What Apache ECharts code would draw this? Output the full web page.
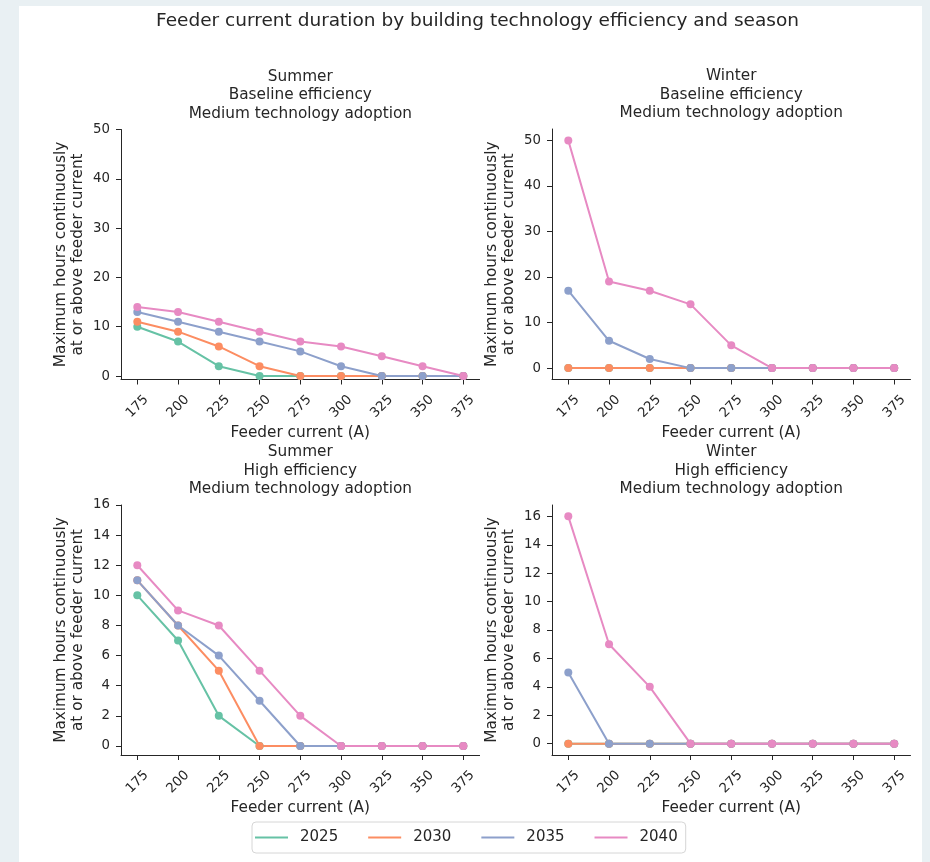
<!DOCTYPE html>
<html>
<head>
<meta charset="utf-8">
<script src="https://cdn.jsdelivr.net/npm/echarts@6/dist/echarts.min.js"></script>
<style>
html,body{margin:0;padding:0;background:#e9f0f3;}
#chart{width:930px;height:862px;}
</style>
</head>
<body>
<div id="chart"></div>
<script>
// ---- data ----
const currents = [175, 200, 225, 250, 275, 300, 325, 350, 375];
const years = ['2025', '2030', '2035', '2040'];
const colors = ['#66c2a5', '#fc8d62', '#8da0cb', '#e78ac3'];

// Summer, baseline efficiency
const summerBase2025 = [10, 7, 2, 0, 0, 0, 0, 0, 0];
const summerBase2030 = [11, 9, 6, 2, 0, 0, 0, 0, 0];
const summerBase2035 = [13, 11, 9, 7, 5, 2, 0, 0, 0];
const summerBase2040 = [14, 13, 11, 9, 7, 6, 4, 2, 0];
// Winter, baseline efficiency
const winterBase2025 = [0, 0, 0, 0, 0, 0, 0, 0, 0];
const winterBase2030 = [0, 0, 0, 0, 0, 0, 0, 0, 0];
const winterBase2035 = [17, 6, 2, 0, 0, 0, 0, 0, 0];
const winterBase2040 = [50, 19, 17, 14, 5, 0, 0, 0, 0];
// Summer, high efficiency
const summerHigh2025 = [10, 7, 2, 0, 0, 0, 0, 0, 0];
const summerHigh2030 = [11, 8, 5, 0, 0, 0, 0, 0, 0];
const summerHigh2035 = [11, 8, 6, 3, 0, 0, 0, 0, 0];
const summerHigh2040 = [12, 9, 8, 5, 2, 0, 0, 0, 0];
// Winter, high efficiency
const winterHigh2025 = [0, 0, 0, 0, 0, 0, 0, 0, 0];
const winterHigh2030 = [0, 0, 0, 0, 0, 0, 0, 0, 0];
const winterHigh2035 = [5, 0, 0, 0, 0, 0, 0, 0, 0];
const winterHigh2040 = [16, 7, 4, 0, 0, 0, 0, 0, 0];

// tick labels
const xTicks = [175, 200, 225, 250, 275, 300, 325, 350, 375];
const yTicksBaseline = [0, 10, 20, 30, 40, 50];
const yTicksHigh = [0, 2, 4, 6, 8, 10, 12, 14, 16];

const panelTitles = [
  'Summer\nBaseline efficiency\nMedium technology adoption',
  'Winter\nBaseline efficiency\nMedium technology adoption',
  'Summer\nHigh efficiency\nMedium technology adoption',
  'Winter\nHigh efficiency\nMedium technology adoption'
];
const mainTitle = 'Feeder current duration by building technology efficiency and season';
const xName = 'Feeder current (A)';
const yName = 'Maximum hours continuously\nat or above feeder current';

// ---- layout ----
const FONT = 'DejaVu Sans';
const TXT = '#262626';
const panels = [
  { grid: { left: 121, top: 129.5, width: 358.6, height: 250 }, ymin: -0.7, ymax: 50, ticks: yTicksBaseline,
    series: [summerBase2025, summerBase2030, summerBase2035, summerBase2040] },
  { grid: { left: 552, top: 129, width: 358.5, height: 250.5 }, ymin: -2.5, ymax: 52.5, ticks: yTicksBaseline,
    series: [winterBase2025, winterBase2030, winterBase2035, winterBase2040] },
  { grid: { left: 121, top: 505, width: 358.6, height: 250 }, ymin: -0.6, ymax: 16, ticks: yTicksHigh,
    series: [summerHigh2025, summerHigh2030, summerHigh2035, summerHigh2040] },
  { grid: { left: 552, top: 505, width: 358.5, height: 250 }, ymin: -0.8, ymax: 16.8, ticks: yTicksHigh,
    series: [winterHigh2025, winterHigh2030, winterHigh2035, winterHigh2040] }
];

const grids = [], xAxes = [], yAxes = [], series = [], graphics = [];

graphics.push({ type: 'rect', shape: { x: 19, y: 6, width: 903, height: 860 }, style: { fill: '#ffffff' }, z: -10 });
graphics.push({ type: 'text', x: 477.5, y: 21, style: { text: mainTitle, font: '18.5px "DejaVu Sans"', fill: TXT, textAlign: 'center', textVerticalAlign: 'middle' } });

panels.forEach((p, i) => {
  grids.push(Object.assign({ containLabel: false }, p.grid));
  xAxes.push({
    type: 'value', gridIndex: i, min: 165, max: 385,
    name: xName, nameLocation: 'middle', nameGap: 46,
    nameTextStyle: { fontFamily: FONT, fontSize: 15.3, color: TXT },
    axisLine: { show: true, onZero: false, lineStyle: { color: TXT, width: 1 } },
    axisTick: { show: true, length: 5, customValues: xTicks, lineStyle: { color: TXT, width: 1 } },
    axisLabel: { customValues: xTicks, rotate: 45, align: 'center', verticalAlign: 'middle', margin: 27,
      fontFamily: FONT, fontSize: 13.3, color: TXT },
    splitLine: { show: false }
  });
  yAxes.push({
    type: 'value', gridIndex: i, min: p.ymin, max: p.ymax,
    name: yName, nameLocation: 'middle', nameGap: 34, nameRotate: 90,
    nameTextStyle: { fontFamily: FONT, fontSize: 15.3, color: TXT, lineHeight: 17.5, align: 'center' },
    axisLine: { show: true, onZero: false, lineStyle: { color: TXT, width: 1 } },
    axisTick: { show: true, length: 5, customValues: p.ticks, lineStyle: { color: TXT, width: 1 } },
    axisLabel: { customValues: p.ticks, margin: 11, fontFamily: FONT, fontSize: 13.3, color: TXT },
    splitLine: { show: false }
  });
  p.series.forEach((vals, k) => {
    series.push({
      name: years[k], type: 'line', xAxisIndex: i, yAxisIndex: i,
      data: currents.map((c, j) => [c, vals[j]]),
      symbol: 'circle', symbolSize: 8, showSymbol: true,
      lineStyle: { color: colors[k], width: 2 },
      itemStyle: { color: colors[k] },
      emphasis: { disabled: true },
      animation: false
    });
  });
  const cx = p.grid.left + p.grid.width / 2;
  graphics.push({ type: 'text', x: cx, y: p.grid.top - 34, style: { text: panelTitles[i], font: '15.3px "DejaVu Sans"', lineHeight: 18.5, fill: TXT, textAlign: 'center', textVerticalAlign: 'middle' } });
});

const chart = echarts.init(document.getElementById('chart'), null, { renderer: 'canvas' });
chart.setOption({
  backgroundColor: '#e9f0f3',
  animation: false,
  textStyle: { fontFamily: FONT },
  graphic: graphics,
  grid: grids,
  xAxis: xAxes,
  yAxis: yAxes,
  legend: {
    data: years, left: 252, top: 822, orient: 'horizontal',
    icon: 'rect', itemWidth: 33, itemHeight: 2, itemGap: 30,
    padding: [8, 8, 8, 3],
    borderColor: '#d6d6d6', borderWidth: 1, borderRadius: 4, backgroundColor: '#ffffff',
    textStyle: { fontFamily: FONT, fontSize: 15, color: TXT, padding: [0, 0, 0, 7] },
    selectedMode: false
  },
  series: series
});
</script>
</body>
</html>
